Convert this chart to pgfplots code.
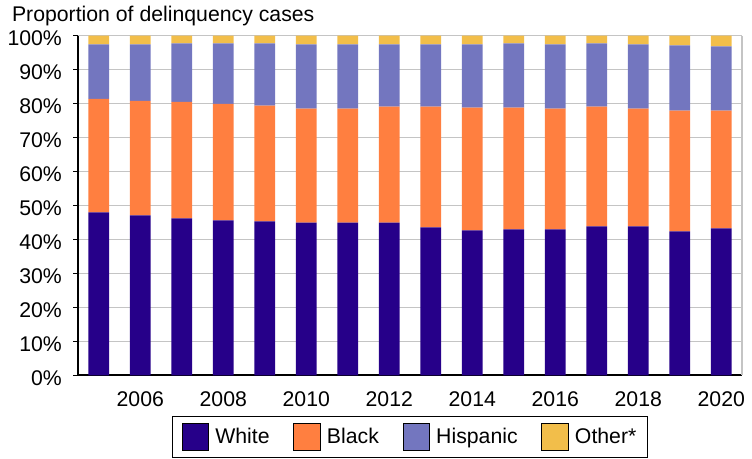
\documentclass[border=0pt]{standalone}
\usepackage{fontspec}
\setmainfont{Liberation Sans}
\usepackage{pgfplots}
\pgfplotsset{compat=1.18}
\usepackage{pgfplotstable}

\definecolor{cwhite}{HTML}{260089}
\definecolor{cblack}{HTML}{FF7F40}
\definecolor{chisp}{HTML}{7376BF}
\definecolor{cother}{HTML}{F2BE4A}
\definecolor{gridgray}{HTML}{C4C4C4}

% shares of delinquency cases (%)
\pgfplotstableread{
year white black hispanic other
2005 48.0 33.4 16.0 2.6
2006 47.1 33.7 16.6 2.6
2007 46.2 34.3 17.2 2.3
2008 45.6 34.3 17.8 2.3
2009 45.3 34.1 18.3 2.3
2010 45.0 33.5 18.9 2.6
2011 45.0 33.5 18.9 2.6
2012 45.0 34.1 18.3 2.6
2013 43.6 35.5 18.3 2.6
2014 42.7 36.1 18.6 2.6
2015 43.0 35.8 18.9 2.3
2016 43.0 35.5 18.9 2.6
2017 43.9 35.2 18.6 2.3
2018 43.9 34.6 18.9 2.6
2019 42.4 35.5 19.2 2.9
2020 43.3 34.6 18.9 3.2
}\cases

\newcommand{\chartfont}{\fontsize{21.5pt}{25pt}\selectfont}

\begin{document}
\chartfont
\begin{tikzpicture}
\begin{axis}[
    scale only axis,
    width=672pt, height=344pt,
    ybar stacked, bar width=0.5,
    xmin=2004.5, xmax=2020.5,
    ymin=0, ymax=100,
    enlargelimits=false,
    axis x line*=bottom, axis y line*=left,
    axis line style={black, line width=2pt},
    ytick={0,10,...,100},
    yticklabels={0\%,10\%,20\%,30\%,40\%,50\%,60\%,70\%,80\%,90\%,100\%},
    xtick={2006,2008,...,2020},
    xticklabels={2006,2008,2010,2012,2014,2016,2018,2020},
    tick label style={font=\chartfont},
    y tick style={black, line width=1.2pt},
    ytick align=outside, major tick length=5pt,
    x tick style={draw=none},
    ymajorgrids, grid style={gridgray, line width=1.5pt},
    yticklabel style={xshift=-4pt, yshift=-3pt},
    xticklabel style={yshift=-9pt},
    /pgf/number format/assume math mode=true,
    legend columns=4,
    legend style={at={(0.5,-0.118)}, anchor=north, draw=black, line width=1pt,
        font=\chartfont,
        inner xsep=9pt, inner ysep=7pt,
        /tikz/every odd column/.append style={column sep=4pt},
        /tikz/every even column/.append style={column sep=22pt}},
    legend image code/.code={\draw[#1, draw=black, line width=1pt] (0pt,-13pt) rectangle (27pt,14pt);},
]
\addplot[fill=cwhite, draw=none] table[x=year, y=white] {\cases};
\addlegendentry{White}
\addplot[fill=cblack, draw=none] table[x=year, y=black] {\cases};
\addlegendentry{Black}
\addplot[fill=chisp, draw=none] table[x=year, y=hispanic] {\cases};
\addlegendentry{Hispanic}
\addplot[fill=cother, draw=none] table[x=year, y=other] {\cases};
\addlegendentry{Other*}
\end{axis}
\draw[gridgray, line width=1.5pt] (current axis.south east) -- (current axis.north east);
\node[anchor=base west, inner sep=0pt] at ([xshift=-67pt, yshift=358pt]current axis.south west) {Proportion of delinquency cases};
\path ([xshift=-79pt, yshift=-84pt]current axis.south west) rectangle ++(752pt,464pt);
\end{tikzpicture}
\end{document}
